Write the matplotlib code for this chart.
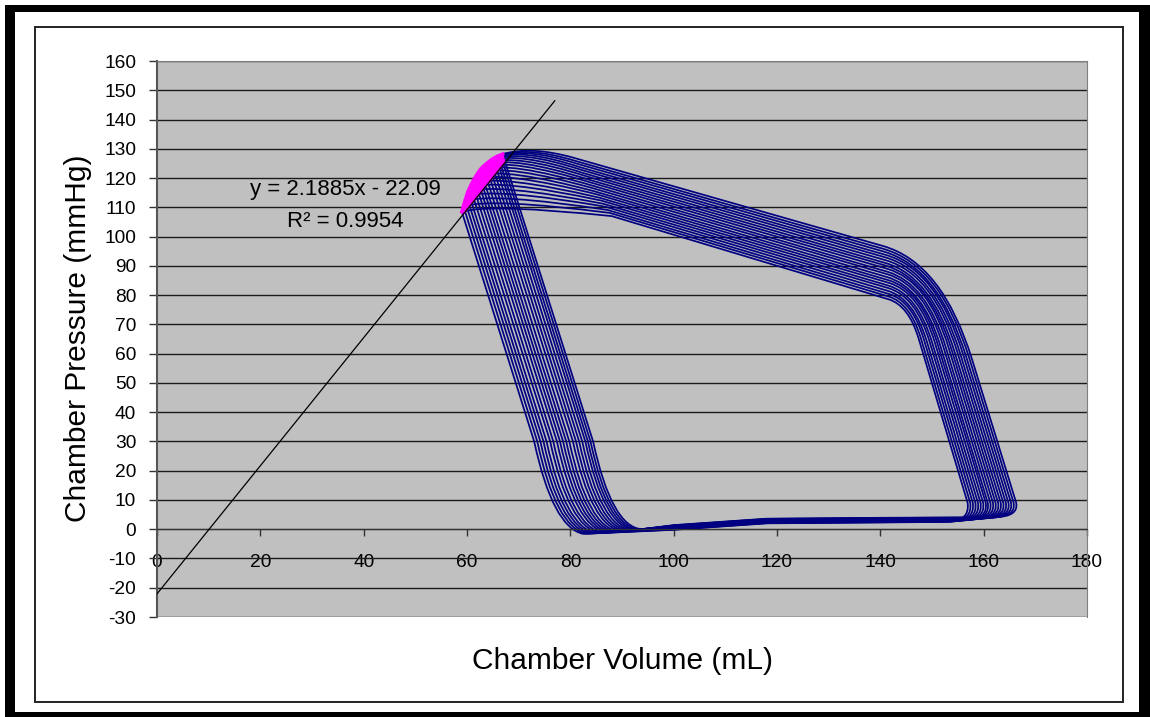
"""
    Curvas pressao-volume da camara (varios batimentos) com a reta ESPVR
"""
import matplotlib.pyplot as plt
import numpy as np
from matplotlib.path import Path
from matplotlib.patches import PathPatch, Rectangle

plt.rcParams['font.family'] = ['Liberation Sans', 'DejaVu Sans']
plt.rcParams['axes.unicode_minus'] = False

#> Pontos de fim de sistole (um por batimento)
esv = [59.0, 59.3, 59.6, 59.9, 60.2, 60.6, 61.0, 61.4, 61.8, 62.2,
       62.6, 63.1, 63.6, 64.1, 64.6, 65.1, 65.6, 66.0, 66.5, 66.9]
esp = [108.5, 110.4, 112.2, 113.9, 115.5, 117.0, 118.4, 119.7, 120.9, 122.0,
       123.0, 123.9, 124.7, 125.4, 126.1, 126.7, 127.2, 127.6, 127.9, 128.2]
# volume do lado esquerdo a 30 mmHg
lv30 = [73.0, 73.6, 74.2, 74.8, 75.4, 76.1, 76.7, 77.4, 78.0, 78.6,
        79.2, 79.8, 80.5, 81.1, 81.7, 82.3, 82.9, 83.4, 83.9, 84.4]
# volume de fim de diastole
edv = [157.0, 157.5, 158.0, 158.5, 159.0, 159.5, 160.0, 160.5, 160.9, 161.4,
       161.9, 162.4, 162.9, 163.4, 163.9, 164.4, 164.9, 165.4, 165.9, 166.4]
# canto superior direito (ombro)
shv = [145.5, 145.8, 146.2, 146.5, 146.9, 147.2, 147.6, 147.9, 148.2, 148.6,
       148.9, 149.3, 149.6, 149.9, 150.3, 150.6, 151.0, 151.3, 151.7, 152.0]
shp = [76.5, 77.3, 78.0, 78.8, 79.6, 80.3, 81.1, 81.8, 82.6, 83.4,
       84.1, 84.9, 85.7, 86.4, 87.2, 88.0, 88.7, 89.5, 90.2, 91.0]
shr = [0.17, 0.18, 0.19, 0.21, 0.22, 0.23, 0.24, 0.25, 0.27, 0.28,
       0.29, 0.30, 0.32, 0.33, 0.34, 0.35, 0.36, 0.38, 0.39, 0.40]
# ponto da ejecao antes do canto de fim de sistole
tpv = [88.0, 87.6, 87.2, 86.8, 86.4, 86.0, 85.6, 85.2, 84.8, 84.4,
       84.1, 83.7, 83.3, 82.9, 82.5, 82.1, 81.7, 81.3, 80.9, 80.5]
tpp = [107.0, 108.1, 109.1, 110.2, 111.2, 112.3, 113.3, 114.4, 115.4, 116.5,
       117.5, 118.6, 119.6, 120.7, 121.7, 122.8, 123.8, 124.9, 125.9, 127.0]
# curva de enchimento
fill_v = [100.0, 118.0, 140.0]
fill_p = [0.6, 2.8, 3.1]
fill_off = [-0.8, -0.72, -0.63, -0.55, -0.46, -0.38, -0.29, -0.21, -0.13, -0.04,
            0.04, 0.13, 0.21, 0.29, 0.38, 0.46, 0.55, 0.63, 0.72, 0.8]

#> Reta de regressao (ESPVR)
slope, icpt, r2 = 2.1885, -22.09, 0.9954
trend_x = np.array([0.0, 77.0])

def beat_path(i):
    """ Monta o caminho fechado de um batimento a partir dos pontos-chave """
    off = fill_off[i]
    es = (esv[i], esp[i])
    sc = np.array([shv[i], shp[i]])
    ede = np.array([edv[i] - 0.1, 9.0])
    pv = np.array([tpv[i], tpp[i]])
    rs = sc + (ede - sc) * shr[i]
    se = sc + (pv - sc) * shr[i] * 0.4
    verts = [es, (lv30[i], 30.0), (lv30[i] + 3.6, 0.5), (lv30[i] + 9.5, -0.8 + off)]
    codes = [Path.MOVETO, Path.LINETO, Path.CURVE3, Path.CURVE3]
    for v, p in zip(fill_v, fill_p):
        verts.append((v, p + off)); codes.append(Path.LINETO)
    verts += [(edv[i] - 4.0, 3.3 + off), (edv[i] + 0.4, 3.6 + off), tuple(ede),
              tuple(rs), tuple(sc), tuple(se), tuple(pv),
              (esv[i] + 5.5, esp[i] + 2.8), es]
    codes += [Path.LINETO, Path.CURVE3, Path.CURVE3,
              Path.LINETO, Path.CURVE3, Path.CURVE3, Path.LINETO,
              Path.CURVE3, Path.CURVE3]
    return Path(verts, codes)

W, H = 1150, 717
fig = plt.figure(figsize=(W / 100, H / 100), dpi=100)

# moldura preta externa e borda fina interna
fig.add_artist(Rectangle((5 / W, 0), 1145 / W, 712 / H, transform=fig.transFigure,
                         facecolor='black', edgecolor='none', zorder=0))
fig.add_artist(Rectangle((15 / W, 5 / H), 1124 / W, 700 / H, transform=fig.transFigure,
                         facecolor='white', edgecolor='none', zorder=0))
fig.add_artist(Rectangle((35 / W, 15 / H), 1088 / W, 675 / H, transform=fig.transFigure,
                         facecolor='none', edgecolor='#222222', lw=1.4, zorder=1))

ax = fig.add_axes([157 / W, 100 / H, 930 / W, 556 / H])
ax.set_facecolor('#C0C0C0')

for i in range(len(esv)):
    ax.add_patch(PathPatch(beat_path(i), facecolor='none', edgecolor='#000080', lw=1.25, zorder=2))

# pontos de fim de sistole (lente magenta limitada pela reta)
lens_x = list(esv) + [esv[-1] + 0.45, esv[0] + 0.3]
lens_y = list(esp) + [slope * lens_x[-2] + icpt, slope * lens_x[-1] + icpt]
ax.fill(lens_x, lens_y, color='#FF00FF', zorder=3)
ax.plot(esv, esp, color='#FF00FF', lw=2.5, zorder=3)
ax.plot(trend_x, slope * trend_x + icpt, color='black', lw=0.9, zorder=4)

ax.text(36.4, 116.0, 'y = 2.1885x - 22.09', ha='center', va='center', fontsize=16, zorder=5)
ax.text(36.4, 105.0, f'R² = {r2}', ha='center', va='center', fontsize=16, zorder=5)

ax.set_xlim(0, 180)
ax.set_ylim(-30, 160)
ax.set_xticks(np.arange(0, 181, 20))
ax.set_yticks(np.arange(-30, 161, 10))
ax.yaxis.grid(True, color='#1a1a1a', lw=1.0)
ax.set_axisbelow(True)
ax.spines['bottom'].set_position(('data', 0))
ax.spines['bottom'].set_color('#333333')
ax.spines['left'].set_color('#555555')
ax.spines['left'].set_linewidth(1.5)
ax.spines['top'].set_color('#808080')
ax.spines['right'].set_color('#808080')
ax.tick_params(axis='x', direction='out', length=5, width=1, pad=13, labelsize=13.8, color='#333333')
ax.tick_params(axis='y', direction='out', length=6, width=1, pad=9, labelsize=13.8, color='#333333')

fig.text(78 / W, 1 - 338 / H, 'Chamber Pressure (mmHg)', rotation=90, ha='center', va='center', fontsize=21.5)
fig.text(622 / W, 1 - 661 / H, 'Chamber Volume (mL)', ha='center', va='center', fontsize=21.5)

fig.savefig('out.png', dpi=100)
